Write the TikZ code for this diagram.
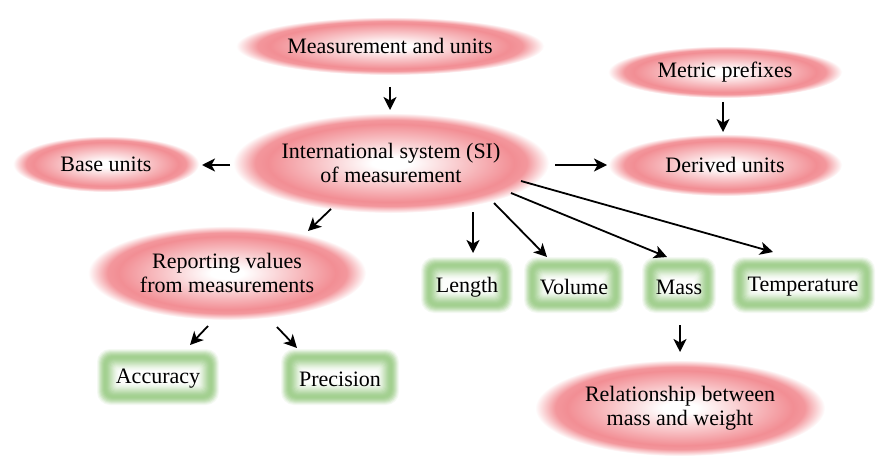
\documentclass[tikz,border=0pt]{standalone}
\usepackage{fontspec}
\setmainfont{Liberation Serif}
\usetikzlibrary{calc,arrows.meta}
\definecolor{pinkc}{RGB}{242,142,148}
\definecolor{gc}{RGB}{148,200,126}
\pgfdeclareradialshading{pinkglow}{\pgfpointorigin}{color(0bp)=(white); color(3bp)=(white); color(19.5bp)=(pinkc); color(21.5bp)=(pinkc!92!white); color(25bp)=(white); color(50bp)=(white)}
\tikzset{
  txt/.style={inner sep=0pt, align=center, font=\fontsize{22}{24}\selectfont, text=black},
  arr/.style={line width=1.8pt, -{Stealth[length=13pt,width=13pt,inset=3.5pt]}}
}
\newcommand\pinknode[6]{%
  \shade[shading=pinkglow] (#2,#3) ellipse [x radius=#4, y radius=#5];
  \node[txt] (#1) at (#2,#3) {#6};}
\newcommand\greennode[6]{%
  \foreach \d/\p in {0/10,1/22,2/36,3/50,4/62,5/72,6/80,7/85,8/86,9/84,10/80,11/74,12/67,13/59,14/51,15/43,16/35,17/28,18/21,19/15,20/10,21/6,22/3}{%
    \pgfmathsetmacro\rr{max(2,13-0.6*\d)}%
    \fill[gc!\p!white, rounded corners=\rr pt] (#2-#4+\d,#3-#5+\d) rectangle (#2+#4-\d,#3+#5-\d);}
  \node[txt] (#1) at (#2,#3+2) {#6};}
\begin{document}
\begin{tikzpicture}[x=1pt,y=-1pt]
\useasboundingbox (0,0) rectangle (890,468);
\fill[white] (0,0) rectangle (890,468);
\pinknode{mu}{390}{46}{154}{29}{Measurement and units}
\pinknode{mp}{725}{72}{117}{26}{Metric prefixes}
\pinknode{si}{391}{163}{158}{50}{International system (SI)\\of measurement}
\pinknode{bu}{106}{164}{93}{28}{Base units}
\pinknode{du}{725}{165}{117}{31}{Derived units}
\pinknode{rv}{227}{273}{139}{47}{Reporting values\\from measurements}
\pinknode{rel}{680}{408}{145}{48}{Relationship between\\mass and weight}
\greennode{len}{467}{285}{46}{28}{Length}
\greennode{vol}{574}{285}{50}{28}{Volume}
\greennode{mass}{679}{285}{37}{28}{Mass}
\greennode{temp}{803}{285}{72}{28}{Temperature}
\greennode{acc}{158}{377}{61}{28}{Accuracy}
\greennode{pre}{340}{377}{59}{28}{Precision}
\draw[arr] ($(mu)+(0,41)$) -- ($(si)+(-1,-53)$);
\draw[arr] ($(si)+(-161,2)$) -- ($(bu)+(96,1)$);
\draw[arr] ($(si)+(164,2)$) -- ($(du)+(-118,0)$);
\draw[arr] ($(mp)+(-2,30)$) -- ($(du)+(-2,-33)$);
\draw[arr] ($(si)+(-60,46)$) -- ($(rv)+(81,-42)$);
\draw[arr] ($(si)+(82,49)$) -- ($(len)+(6,-34)$);
\draw[arr] ($(si)+(103,40)$) -- ($(vol)+(-27,-30)$);
\draw[arr] ($(si)+(120,30)$) -- ($(mass)+(-12,-30)$);
\draw[arr] ($(si)+(130,18)$) -- ($(temp)+(-30,-35)$);
\draw[arr] ($(rv)+(-19,53)$) -- ($(acc)+(32,-34)$);
\draw[arr] ($(rv)+(50,54)$) -- ($(pre)+(-43,-31)$);
\draw[arr] ($(mass)+(1,38)$) -- ($(rel)+(0,-56)$);
\end{tikzpicture}
\end{document}
